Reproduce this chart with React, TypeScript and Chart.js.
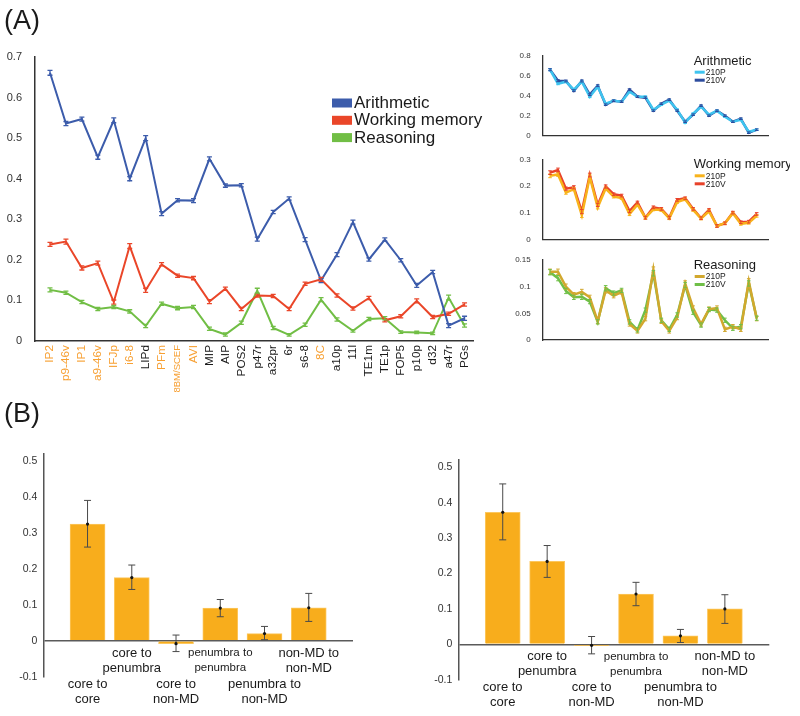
import React, { useEffect, useRef } from 'react';
import { Chart, registerables } from 'chart.js';

Chart.register(...registerables);

const FONT = "'Liberation Sans', Arial, Helvetica, sans-serif";

// ---------- Panel A: main chart ----------
const areas = ['IP2', 'p9-46v', 'IP1', 'a9-46v', 'IFJp', 'i6-8', 'LIPd', 'PFm', '8BM/SCEF', 'AVI', 'MIP', 'AIP', 'POS2', 'p47r', 'a32pr', '6r', 's6-8', '8C', 'a10p', '11l', 'TE1m', 'TE1p', 'FOP5', 'p10p', 'd32', 'a47r', 'PGs'];
const coreAreas = ['IP2', 'p9-46v', 'IP1', 'a9-46v', 'IFJp', 'i6-8', 'PFm', '8BM/SCEF', 'AVI', '8C'];

const arithmetic = [0.661, 0.536, 0.547, 0.453, 0.544, 0.400, 0.500, 0.314, 0.347, 0.346, 0.449, 0.383, 0.384, 0.251, 0.318, 0.351, 0.250, 0.149, 0.213, 0.293, 0.201, 0.250, 0.199, 0.137, 0.170, 0.038, 0.056];
const workingMemory = [0.238, 0.245, 0.180, 0.192, 0.096, 0.234, 0.125, 0.189, 0.161, 0.155, 0.097, 0.129, 0.079, 0.112, 0.111, 0.079, 0.141, 0.152, 0.112, 0.080, 0.106, 0.051, 0.061, 0.099, 0.059, 0.067, 0.090];
const reasoning = [0.126, 0.119, 0.096, 0.079, 0.084, 0.073, 0.037, 0.092, 0.081, 0.084, 0.030, 0.016, 0.045, 0.124, 0.032, 0.015, 0.040, 0.102, 0.053, 0.025, 0.054, 0.056, 0.022, 0.021, 0.019, 0.107, 0.038];
const arithmeticErr = [0.006, 0.005, 0.005, 0.005, 0.006, 0.005, 0.006, 0.005, 0.004, 0.005, 0.005, 0.004, 0.004, 0.005, 0.004, 0.004, 0.005, 0.005, 0.005, 0.005, 0.004, 0.004, 0.004, 0.005, 0.004, 0.005, 0.005];
const workingMemoryErr = [0.005, 0.006, 0.005, 0.005, 0.005, 0.006, 0.005, 0.004, 0.004, 0.004, 0.005, 0.004, 0.004, 0.004, 0.004, 0.004, 0.004, 0.005, 0.004, 0.004, 0.004, 0.004, 0.004, 0.005, 0.004, 0.004, 0.004];
const reasoningErr = [0.005, 0.004, 0.004, 0.004, 0.004, 0.004, 0.004, 0.004, 0.004, 0.004, 0.004, 0.004, 0.004, 0.006, 0.004, 0.003, 0.004, 0.005, 0.004, 0.003, 0.004, 0.004, 0.003, 0.003, 0.003, 0.006, 0.004];

// ---------- Panel A: small charts (210P / 210V) ----------
const arith210P = [0.66, 0.52, 0.54, 0.46, 0.54, 0.39, 0.49, 0.32, 0.35, 0.34, 0.44, 0.39, 0.39, 0.26, 0.31, 0.35, 0.26, 0.13, 0.22, 0.29, 0.21, 0.25, 0.19, 0.14, 0.16, 0.04, 0.06];
const arith210V = [0.66, 0.55, 0.547, 0.45, 0.547, 0.41, 0.50, 0.31, 0.35, 0.34, 0.46, 0.39, 0.38, 0.25, 0.32, 0.36, 0.25, 0.14, 0.21, 0.30, 0.20, 0.25, 0.20, 0.14, 0.17, 0.03, 0.06];
const arithSmallErr = [0.010, 0.010, 0.009, 0.009, 0.010, 0.009, 0.009, 0.008, 0.008, 0.008, 0.009, 0.008, 0.008, 0.008, 0.008, 0.008, 0.008, 0.008, 0.008, 0.008, 0.008, 0.008, 0.008, 0.008, 0.008, 0.008, 0.008];
const wm210P = [0.238, 0.243, 0.175, 0.188, 0.090, 0.234, 0.120, 0.190, 0.160, 0.155, 0.095, 0.130, 0.080, 0.112, 0.110, 0.079, 0.140, 0.150, 0.110, 0.078, 0.105, 0.050, 0.060, 0.098, 0.058, 0.062, 0.088];
const wm210V = [0.250, 0.260, 0.190, 0.195, 0.104, 0.241, 0.129, 0.198, 0.169, 0.164, 0.106, 0.138, 0.081, 0.120, 0.114, 0.081, 0.148, 0.154, 0.114, 0.079, 0.110, 0.050, 0.060, 0.100, 0.064, 0.066, 0.095];
const wmSmallErr = [0.007, 0.007, 0.006, 0.006, 0.008, 0.007, 0.006, 0.006, 0.005, 0.005, 0.006, 0.005, 0.005, 0.005, 0.005, 0.005, 0.005, 0.005, 0.005, 0.005, 0.005, 0.005, 0.005, 0.005, 0.005, 0.005, 0.005];
const reas210P = [0.128, 0.128, 0.100, 0.085, 0.090, 0.080, 0.035, 0.093, 0.083, 0.090, 0.030, 0.017, 0.040, 0.132, 0.035, 0.017, 0.042, 0.106, 0.060, 0.030, 0.058, 0.060, 0.020, 0.025, 0.020, 0.110, 0.040];
const reas210V = [0.127, 0.116, 0.092, 0.080, 0.081, 0.072, 0.034, 0.097, 0.088, 0.093, 0.034, 0.019, 0.056, 0.125, 0.037, 0.020, 0.047, 0.103, 0.052, 0.028, 0.057, 0.056, 0.037, 0.022, 0.025, 0.106, 0.041];
const reasSmallErr = [0.005, 0.005, 0.005, 0.004, 0.005, 0.004, 0.004, 0.005, 0.004, 0.004, 0.004, 0.004, 0.004, 0.005, 0.004, 0.004, 0.004, 0.005, 0.004, 0.004, 0.004, 0.004, 0.004, 0.004, 0.004, 0.005, 0.004];

// ---------- Panel B ----------
const bLabels = [['core to', 'core'], ['core to', 'penumbra'], ['core to', 'non-MD'], ['penumbra to', 'penumbra'], ['penumbra to', 'non-MD'], ['non-MD to', 'non-MD']];
const leftVals = [0.325, 0.176, -0.008, 0.091, 0.020, 0.092];
const leftLow = [0.261, 0.143, -0.030, 0.067, 0.003, 0.054];
const leftHigh = [0.391, 0.211, 0.016, 0.115, 0.040, 0.132];
const rightVals = [0.373, 0.234, -0.003, 0.142, 0.024, 0.100];
const rightLow = [0.295, 0.189, -0.027, 0.109, 0.005, 0.059];
const rightHigh = [0.453, 0.279, 0.022, 0.175, 0.042, 0.140];
const bTicks = [-0.1, 0, 0.1, 0.2, 0.3, 0.4, 0.5];

const BLUE = '#3C5CAB';
const RED = '#EA4629';
const GREEN = '#71BE45';
const ORANGE = '#F7A033';

const fmt = (v: number) => String(Math.round(v * 1000) / 1000);
const tickVal = (c: any) => (c && c.tick ? c.tick.value : (c && typeof c.index === 'number' ? c.index : -1));

// error bars drawn through the scales
function errorBarPlugin(capHalf: number, lw: number) {
  return {
    id: 'errbars',
    afterDatasetsDraw(chart: any) {
      const ctx = chart.ctx;
      const ys = chart.scales.y;
      chart.data.datasets.forEach((ds: any, d: number) => {
        const meta = chart.getDatasetMeta(d);
        meta.data.forEach((el: any, i: number) => {
          const v = ds.data[i].y;
          let lo: number, hi: number;
          if (ds.errors) { lo = v - ds.errors[i]; hi = v + ds.errors[i]; }
          else if (ds.errLow) { lo = ds.errLow[i]; hi = ds.errHigh[i]; }
          else return;
          const x = el.x;
          const y1 = ys.getPixelForValue(lo);
          const y2 = ys.getPixelForValue(hi);
          ctx.save();
          ctx.strokeStyle = ds.errColor || ds.borderColor;
          ctx.lineWidth = lw;
          ctx.beginPath();
          ctx.moveTo(x, y1); ctx.lineTo(x, y2);
          ctx.moveTo(x - capHalf, y1); ctx.lineTo(x + capHalf, y1);
          ctx.moveTo(x - capHalf, y2); ctx.lineTo(x + capHalf, y2);
          ctx.stroke();
          if (ds.errLow) {
            ctx.fillStyle = '#111';
            ctx.beginPath();
            ctx.arc(x, ys.getPixelForValue(v), 1.6, 0, Math.PI * 2);
            ctx.fill();
          }
          ctx.restore();
        });
      });
    },
  };
}

const mainLegendPlugin = {
  id: 'mainLegend',
  afterDraw(chart: any) {
    const ctx = chart.ctx;
    const a = chart.chartArea;
    ctx.save();
    chart.data.datasets.forEach((ds: any, k: number) => {
      const y = a.top + 46 + k * 17.3;
      ctx.fillStyle = ds.borderColor;
      ctx.fillRect(a.left + 297, y - 4.5, 20, 9);
      ctx.fillStyle = '#1a1a1a';
      ctx.font = `17px ${FONT}`;
      ctx.textBaseline = 'middle';
      ctx.textAlign = 'left';
      ctx.fillText(ds.label, a.left + 319, y + 0.5);
    });
    ctx.restore();
  },
};

function smallLegendPlugin(title: string) {
  return {
    id: 'smallLegend',
    afterDraw(chart: any) {
      const ctx = chart.ctx;
      const a = chart.chartArea;
      const x0 = a.left + 151;
      ctx.save();
      ctx.textBaseline = 'middle';
      ctx.textAlign = 'left';
      ctx.fillStyle = '#1a1a1a';
      ctx.font = `13px ${FONT}`;
      ctx.fillText(title, x0, a.top + 5.5);
      chart.data.datasets.forEach((ds: any, k: number) => {
        const y = a.top + 16.5 + k * 8;
        ctx.fillStyle = ds.borderColor;
        ctx.fillRect(x0 + 1, y - 1.5, 10, 3);
        ctx.fillStyle = '#1a1a1a';
        ctx.font = `8.5px ${FONT}`;
        ctx.fillText(ds.label, x0 + 12, y + 0.5);
      });
      ctx.restore();
    },
  };
}

const barLabelPlugin = {
  id: 'barLabels',
  afterDraw(chart: any) {
    const ctx = chart.ctx;
    const xs = chart.scales.x;
    const y0 = chart.scales.y.getPixelForValue(0);
    ctx.save();
    ctx.fillStyle = '#1a1a1a';
    ctx.textAlign = 'center';
    ctx.textBaseline = 'middle';
    bLabels.forEach((lines, i) => {
      const x = xs.getPixelForValue(i);
      const base = i % 2 === 1 ? y0 + 12.5 : y0 + 43.5;
      ctx.font = `${i === 3 ? 11.5 : 13}px ${FONT}`;
      lines.forEach((t, j) => ctx.fillText(t, x, base + j * 15));
    });
    ctx.restore();
  },
};

function ChartBox({ left, top, width, height, make }: any) {
  const ref = useRef<HTMLCanvasElement | null>(null);
  useEffect(() => {
    const chart = new Chart(ref.current as HTMLCanvasElement, make());
    return () => chart.destroy();
  }, []);
  return (
    <div style={{ position: 'absolute', left, top, width, height }}>
      <canvas ref={ref} width={width} height={height} style={{ width, height, display: 'block' }} />
    </div>
  );
}

const pts = (arr: number[]) => arr.map((v, i) => ({ x: i, y: v }));

function makeMain() {
  const line = (label: string, data: number[], err: number[], color: string) => ({
    label, data: pts(data), errors: err, borderColor: color, backgroundColor: color,
    borderWidth: 2, pointRadius: 0, tension: 0,
  });
  return {
    type: 'line',
    data: {
      datasets: [
        line('Arithmetic', arithmetic, arithmeticErr, BLUE),
        line('Working memory', workingMemory, workingMemoryErr, RED),
        line('Reasoning', reasoning, reasoningErr, GREEN),
      ],
    },
    options: {
      responsive: false,
      animation: false,
      layout: { padding: { top: 57, right: 27, left: 0, bottom: 0 } },
      plugins: { legend: { display: false }, tooltip: { enabled: false } },
      scales: {
        x: {
          type: 'linear', min: -0.94, max: 26.53,
          afterBuildTicks: (ax: any) => { ax.ticks = areas.map((_, i) => ({ value: i })); },
          afterFit: (ax: any) => { ax.height = 99; },
          grid: { display: false },
          border: { display: true, color: '#333', width: 1.5 },
          ticks: {
            autoSkip: false, maxRotation: 90, minRotation: 90, padding: -4,
            callback: (v: number) => areas[v] ?? '',
            color: (c: any) => (coreAreas.includes(areas[tickVal(c)]) ? ORANGE : '#1a1a1a'),
            font: (c: any) => ({ family: FONT, size: areas[tickVal(c)] === '8BM/SCEF' ? 9.5 : 11.8 }),
          },
        },
        y: {
          min: 0, max: 0.7,
          afterFit: (ax: any) => { ax.width = 35; },
          grid: { display: false },
          border: { display: true, color: '#333', width: 1.5 },
          ticks: { stepSize: 0.1, padding: 5, color: '#333', font: { family: FONT, size: 11 }, callback: (v: number) => fmt(v) },
        },
      },
    },
    plugins: [errorBarPlugin(2.5, 1.3), mainLegendPlugin],
  };
}

function makeSmall(title: string, p: number[], v: number[], err: number[], cP: string, cV: string, ymax: number, step: number, padTop: number) {
  const line = (label: string, data: number[], color: string) => ({
    label, data: pts(data), errors: err, borderColor: color, backgroundColor: color,
    borderWidth: 2.5, pointRadius: 0, tension: 0,
  });
  return () => ({
    type: 'line',
    data: { datasets: [line('210P', p, cP), line('210V', v, cV)] },
    options: {
      responsive: false,
      animation: false,
      layout: { padding: { top: padTop, right: 22, left: 0, bottom: 0 } },
      plugins: { legend: { display: false }, tooltip: { enabled: false } },
      scales: {
        x: {
          type: 'linear', min: -0.92, max: 27.42,
          afterFit: (ax: any) => { ax.height = 100 - padTop - 80; },
          grid: { display: false },
          ticks: { display: false },
          border: { display: true, color: '#333', width: 1.3 },
        },
        y: {
          min: 0, max: ymax,
          afterFit: (ax: any) => { ax.width = 42.7; },
          grid: { display: false },
          border: { display: true, color: '#333', width: 1.3 },
          ticks: { stepSize: step, padding: 4, color: '#333', font: { family: FONT, size: 8 }, callback: (val: number) => fmt(val) },
        },
      },
    },
    plugins: [errorBarPlugin(1.8, 1), smallLegendPlugin(title)],
  });
}

function makeBars(vals: number[], lo: number[], hi: number[], padTop: number, padRight: number, padBottom: number, yWidth: number) {
  return () => ({
    type: 'bar',
    data: {
      datasets: [{
        label: 'coupling', data: pts(vals), errLow: lo, errHigh: hi, errColor: '#4a4a4a',
        backgroundColor: '#F8AD1C', borderColor: '#FCC75E', borderWidth: 1, barThickness: 35,
      }],
    },
    options: {
      responsive: false,
      animation: false,
      layout: { padding: { top: padTop, right: padRight, left: 0, bottom: padBottom } },
      plugins: { legend: { display: false }, tooltip: { enabled: false } },
      scales: {
        x: { type: 'linear', min: -1, max: 6, offset: false, display: false },
        y: {
          min: -0.1, max: 0.52,
          afterBuildTicks: (ax: any) => { ax.ticks = bTicks.map((t) => ({ value: t })); },
          afterFit: (ax: any) => { ax.width = yWidth; },
          grid: {
            drawTicks: false,
            color: (c: any) => (c && c.tick && Math.abs(c.tick.value) < 1e-9 ? '#5a5a5a' : 'rgba(0,0,0,0)'),
            lineWidth: 1.5,
          },
          border: { display: true, color: '#555', width: 1.5 },
          ticks: { padding: 6, color: '#333', font: { family: FONT, size: 10.5 }, callback: (v: number) => fmt(v) },
        },
      },
    },
    plugins: [errorBarPlugin(3.5, 1), barLabelPlugin],
  });
}

const panelLabel = (text: string, top: number) => (
  <div style={{ position: 'absolute', left: 4, top, fontFamily: FONT, fontSize: 27, lineHeight: '30px', color: '#1a1a1a' }}>{text}</div>
);

export default function App() {
  return (
    <div style={{ position: 'absolute', left: 0, top: 0, width: 800, height: 716, background: '#fff', overflow: 'hidden' }}>
      <ChartBox left={0} top={0} width={500} height={440} make={makeMain} />
      <ChartBox left={500} top={45} width={290} height={100}
        make={makeSmall('Arithmetic', arith210P, arith210V, arithSmallErr, '#3EC4EF', '#2D4C9E', 0.8, 0.2, 10.7)} />
      <ChartBox left={500} top={150} width={290} height={100}
        make={makeSmall('Working memory', wm210P, wm210V, wmSmallErr, '#F8B31C', '#E8422A', 0.3, 0.1, 9.3)} />
      <ChartBox left={500} top={250} width={290} height={100}
        make={makeSmall('Reasoning', reas210P, reas210V, reasSmallErr, '#D2A82E', '#6FBF47', 0.15, 0.05, 10)} />
      <ChartBox left={0} top={440} width={400} height={276}
        make={makeBars(leftVals, leftLow, leftHigh, 14.1, 47, 276 - 236.7, 43.3)} />
      <ChartBox left={400} top={440} width={400} height={276}
        make={makeBars(rightVals, rightLow, rightHigh, 20.2, 30.7, 276 - 239.7, 58.3)} />
      {panelLabel('(A)', 5)}
      {panelLabel('(B)', 398)}
    </div>
  );
}
